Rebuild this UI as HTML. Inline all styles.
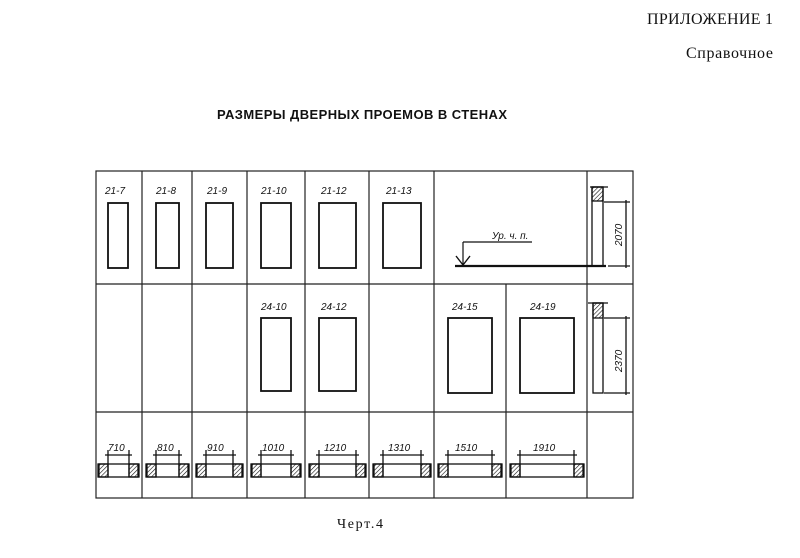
<!DOCTYPE html>
<html><head><meta charset="utf-8"><style>
html,body{margin:0;padding:0;background:#fff;width:800px;height:558px;overflow:hidden}
svg{display:block}
.s{font-family:"Liberation Serif","Noto Serif CJK SC",serif;font-size:16px;fill:#111}
.t{font-family:"Liberation Sans","Noto Sans CJK SC",sans-serif;font-size:13px;font-weight:bold;fill:#111}
.h{font-family:"Liberation Sans","Noto Sans CJK SC",sans-serif;font-size:10px;font-style:italic;fill:#111}
</style></head><body>
<svg width="800" height="558" viewBox="0 0 800 558" xmlns="http://www.w3.org/2000/svg">
<defs><pattern id="hp" width="3" height="3" patternUnits="userSpaceOnUse" patternTransform="rotate(45)"><line x1="0" y1="0" x2="0" y2="3" stroke="#111" stroke-width="1.2"/></pattern></defs>
<text class="s" x="647" y="24" textLength="126">ПРИЛОЖЕНИЕ 1</text>
<text class="s" x="686" y="58" textLength="87">Справочное</text>
<text class="t" x="217" y="119" textLength="290">РАЗМЕРЫ ДВЕРНЫХ ПРОЕМОВ В СТЕНАХ</text>
<text class="s" x="337" y="528" style="font-size:14px" textLength="46">Черт.4</text>
<g stroke="#222" stroke-width="1.2" fill="none">
<rect x="96" y="171" width="537" height="327"/>
<line x1="96" y1="284" x2="633" y2="284"/>
<line x1="96" y1="412" x2="633" y2="412"/>
<line x1="142" y1="171" x2="142" y2="498"/>
<line x1="192" y1="171" x2="192" y2="498"/>
<line x1="247" y1="171" x2="247" y2="498"/>
<line x1="305" y1="171" x2="305" y2="498"/>
<line x1="369" y1="171" x2="369" y2="498"/>
<line x1="434" y1="171" x2="434" y2="498"/>
<line x1="506" y1="284" x2="506" y2="498"/>
<line x1="587" y1="171" x2="587" y2="498"/>
</g>
<g stroke="#111" stroke-width="1.8" fill="none">
<rect x="108" y="203" width="20" height="65"/>
<rect x="156" y="203" width="23" height="65"/>
<rect x="206" y="203" width="27" height="65"/>
<rect x="261" y="203" width="30" height="65"/>
<rect x="319" y="203" width="37" height="65"/>
<rect x="383" y="203" width="38" height="65"/>
<rect x="261" y="318" width="30" height="73"/>
<rect x="319" y="318" width="37" height="73"/>
<rect x="448" y="318" width="44" height="75"/>
<rect x="520" y="318" width="54" height="75"/>
</g>
<g class="h">
<text x="105" y="194">21-7</text><text x="156" y="194">21-8</text><text x="207" y="194">21-9</text>
<text x="261" y="194">21-10</text><text x="321" y="194">21-12</text><text x="386" y="194">21-13</text>
<text x="261" y="310">24-10</text><text x="321" y="310">24-12</text>
<text x="452" y="310">24-15</text><text x="530" y="310">24-19</text>
</g>
<g stroke="#111" fill="none">
<line x1="455" y1="266" x2="606" y2="266" stroke-width="2.2"/>
<line x1="463" y1="242" x2="463" y2="265" stroke-width="1.2"/>
<line x1="463" y1="242" x2="532" y2="242" stroke-width="1.2"/>
<polyline points="456,256 463,265 470,256" stroke-width="1.4"/>
</g>
<text class="h" x="492" y="239">Ур. ч. п.</text>
<g stroke="#111" stroke-width="1.3" fill="none">
<rect x="592" y="187" width="11" height="79"/>
<rect x="592" y="187" width="11" height="14" fill="url(#hp)"/>
<line x1="590" y1="187" x2="608" y2="187"/>
<line x1="604" y1="202" x2="630" y2="202"/>
<line x1="608" y1="266" x2="630" y2="266"/>
<line x1="626" y1="200" x2="626" y2="268"/>
<rect x="593" y="303" width="10" height="90"/>
<rect x="593" y="303" width="10" height="15" fill="url(#hp)"/>
<line x1="588" y1="303" x2="608" y2="303"/>
<line x1="604" y1="318" x2="630" y2="318"/>
<line x1="604" y1="393" x2="630" y2="393"/>
<line x1="626" y1="316" x2="626" y2="395"/>
</g>
<text class="h" transform="translate(622,246) rotate(-90)">2070</text>
<text class="h" transform="translate(622,372) rotate(-90)">2370</text>
<g stroke="#111" stroke-width="1.3">
<g><rect x="98" y="464" width="41" height="13" fill="none"/><rect x="99" y="464" width="9" height="13" fill="url(#hp)"/><rect x="129" y="464" width="9" height="13" fill="url(#hp)"/><line x1="108" y1="450" x2="108" y2="477"/><line x1="129" y1="450" x2="129" y2="477"/><line x1="105" y1="455" x2="132" y2="455"/></g>
<g><rect x="146" y="464" width="43" height="13" fill="none"/><rect x="147" y="464" width="9" height="13" fill="url(#hp)"/><rect x="179" y="464" width="9" height="13" fill="url(#hp)"/><line x1="156" y1="450" x2="156" y2="477"/><line x1="179" y1="450" x2="179" y2="477"/><line x1="153" y1="455" x2="182" y2="455"/></g>
<g><rect x="196" y="464" width="47" height="13" fill="none"/><rect x="197" y="464" width="9" height="13" fill="url(#hp)"/><rect x="233" y="464" width="9" height="13" fill="url(#hp)"/><line x1="206" y1="450" x2="206" y2="477"/><line x1="233" y1="450" x2="233" y2="477"/><line x1="203" y1="455" x2="236" y2="455"/></g>
<g><rect x="251" y="464" width="50" height="13" fill="none"/><rect x="252" y="464" width="9" height="13" fill="url(#hp)"/><rect x="291" y="464" width="9" height="13" fill="url(#hp)"/><line x1="261" y1="450" x2="261" y2="477"/><line x1="291" y1="450" x2="291" y2="477"/><line x1="258" y1="455" x2="294" y2="455"/></g>
<g><rect x="309" y="464" width="57" height="13" fill="none"/><rect x="310" y="464" width="9" height="13" fill="url(#hp)"/><rect x="356" y="464" width="9" height="13" fill="url(#hp)"/><line x1="319" y1="450" x2="319" y2="477"/><line x1="356" y1="450" x2="356" y2="477"/><line x1="316" y1="455" x2="359" y2="455"/></g>
<g><rect x="373" y="464" width="58" height="13" fill="none"/><rect x="374" y="464" width="9" height="13" fill="url(#hp)"/><rect x="421" y="464" width="9" height="13" fill="url(#hp)"/><line x1="383" y1="450" x2="383" y2="477"/><line x1="421" y1="450" x2="421" y2="477"/><line x1="380" y1="455" x2="424" y2="455"/></g>
<g><rect x="438" y="464" width="64" height="13" fill="none"/><rect x="439" y="464" width="9" height="13" fill="url(#hp)"/><rect x="492" y="464" width="9" height="13" fill="url(#hp)"/><line x1="448" y1="450" x2="448" y2="477"/><line x1="492" y1="450" x2="492" y2="477"/><line x1="445" y1="455" x2="495" y2="455"/></g>
<g><rect x="510" y="464" width="74" height="13" fill="none"/><rect x="511" y="464" width="9" height="13" fill="url(#hp)"/><rect x="574" y="464" width="9" height="13" fill="url(#hp)"/><line x1="520" y1="450" x2="520" y2="477"/><line x1="574" y1="450" x2="574" y2="477"/><line x1="517" y1="455" x2="577" y2="455"/></g>
</g>
<g class="h">
<text x="108" y="451">710</text><text x="157" y="451">810</text><text x="207" y="451">910</text>
<text x="262" y="451">1010</text><text x="324" y="451">1210</text><text x="388" y="451">1310</text>
<text x="455" y="451">1510</text><text x="533" y="451">1910</text>
</g>
</svg>
</body></html>
